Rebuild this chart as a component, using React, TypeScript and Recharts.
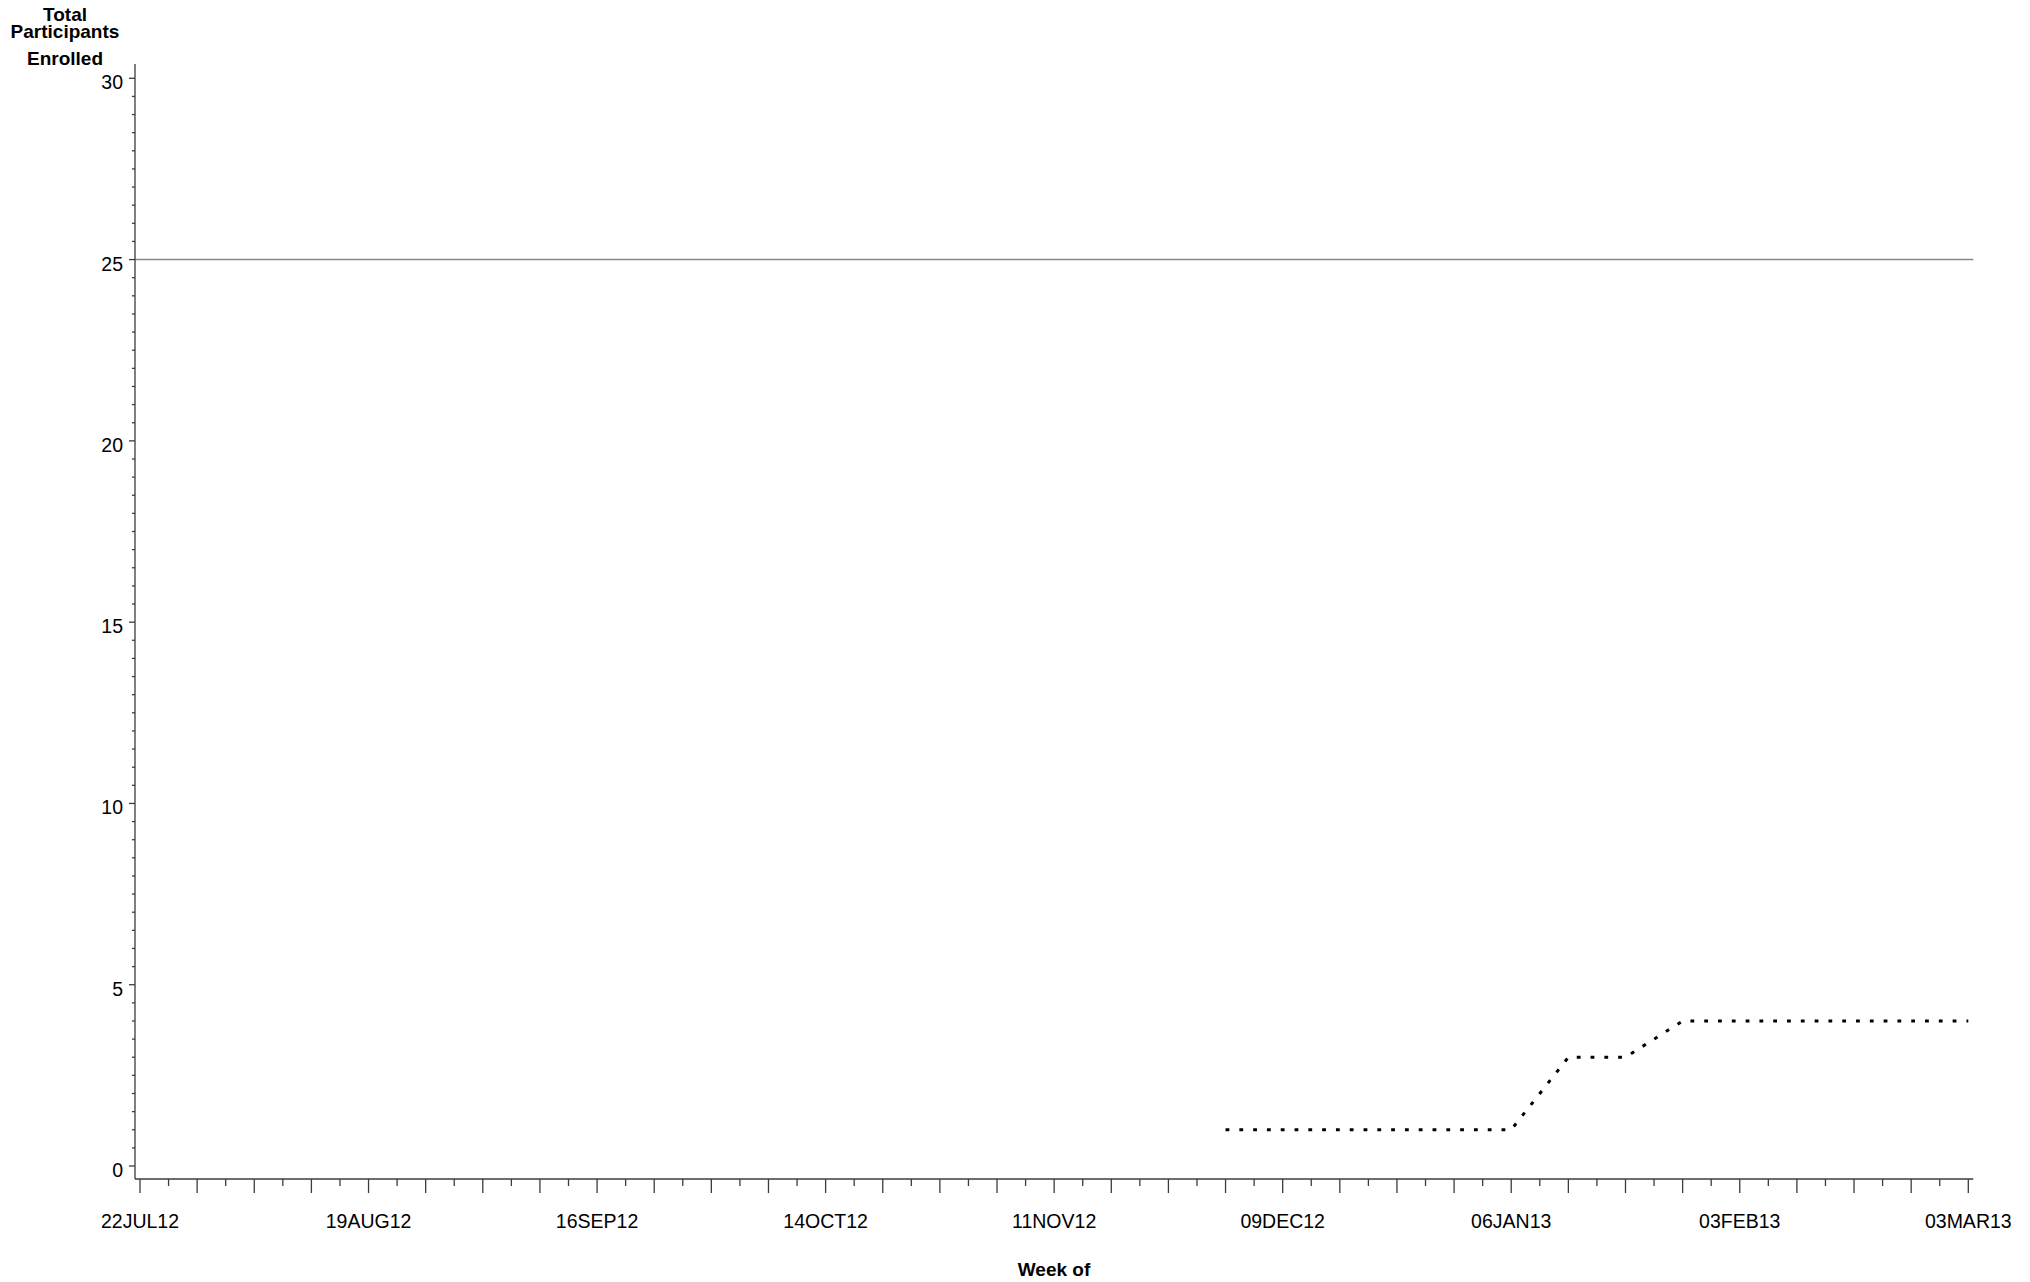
import React from 'react';
import { LineChart, Line, XAxis, YAxis, ReferenceLine } from 'recharts';

// Weeks since 22JUL12 (category index)
const weeks = [0, 1, 2, 3, 4, 5, 6, 7, 8, 9, 10, 11, 12, 13, 14, 15, 16, 17, 18, 19, 20, 21, 22, 23, 24, 25, 26, 27, 28, 29, 30, 31, 32];
// Total participants enrolled per week
const enrolled: (number | null)[] = [null, null, null, null, null, null, null, null, null, null, null, null, null, null, null, null, null, null, null, 1, 1, 1, 1, 1, 1, 3, 3, 4, 4, 4, 4, 4, 4];
// Target enrollment reference
const target = 25;

const xLabelWeeks = [0, 4, 8, 12, 16, 20, 24, 28, 32];
const xLabels = ['22JUL12', '19AUG12', '16SEP12', '14OCT12', '11NOV12', '09DEC12', '06JAN13', '03FEB13', '03MAR13'];
const yLabelValues = [0, 5, 10, 15, 20, 25, 30];
const yLabels = ['0', '5', '10', '15', '20', '25', '30'];

const xTicks = Array.from({ length: 65 }, (_, i) => i * 0.5);
const yTicks = Array.from({ length: 61 }, (_, i) => i * 0.5);

const data = weeks.map((w, i) => ({ week: w, enrolled: enrolled[i] }));

const FONT = '"Liberation Sans", Arial, sans-serif';
const AXIS = '#3c3c3c';

const XTick = (props: any) => {
  const { x, y, payload } = props;
  const v = payload.value;
  const major = Math.abs(v - Math.round(v)) < 1e-6;
  const idx = xLabelWeeks.indexOf(v);
  return (
    <g>
      <line x1={x} x2={x} y1={y} y2={y + (major ? 14 : 7)} stroke={AXIS} strokeWidth={1.3} />
      {idx >= 0 && (
        <text x={x} y={y + 49} textAnchor="middle" fontFamily={FONT} fontSize={19.5} fill="#000">
          {xLabels[idx]}
        </text>
      )}
    </g>
  );
};

const YTick = (props: any) => {
  const { x, y, payload } = props;
  const v = payload.value;
  const idx = yLabelValues.indexOf(v);
  const major = idx >= 0;
  return (
    <g>
      <line x1={x} x2={x - (major ? 6 : 3)} y1={y} y2={y} stroke={AXIS} strokeWidth={1.3} />
      {major && (
        <text x={x - 12} y={y + 11} textAnchor="end" fontFamily={FONT} fontSize={19.5} fill="#000">
          {yLabels[idx]}
        </text>
      )}
    </g>
  );
};

export default function App() {
  return (
    <div style={{ position: 'absolute', left: 0, top: 0, width: 2030, height: 1282, background: '#fff' }}>
      <LineChart
        width={2030}
        height={1282}
        data={data}
        margin={{ top: 64, right: 56.7, bottom: 0, left: 0 }}
      >
        <XAxis
          dataKey="week"
          type="number"
          domain={[-0.0875, 32.0875]}
          allowDataOverflow
          ticks={xTicks}
          interval={0}
          tick={<XTick />}
          tickLine={false}
          tickSize={0}
          tickMargin={0}
          height={103}
          axisLine={{ stroke: AXIS, strokeWidth: 1.3 }}
        />
        <YAxis
          type="number"
          domain={[-0.358, 30.394]}
          allowDataOverflow
          ticks={yTicks}
          interval={0}
          tick={<YTick />}
          tickLine={false}
          tickSize={0}
          tickMargin={0}
          width={135}
          axisLine={{ stroke: AXIS, strokeWidth: 1.3 }}
        />
        <ReferenceLine y={target} stroke="#888" strokeWidth={1.4} ifOverflow="extendDomain" />
        <Line
          type="linear"
          dataKey="enrolled"
          stroke="#000"
          strokeWidth={3}
          strokeDasharray="3.8 10"
          dot={false}
          activeDot={false}
          connectNulls={false}
          isAnimationActive={false}
        />
      </LineChart>
      <svg width={2030} height={1282} style={{ position: 'absolute', left: 0, top: 0, pointerEvents: 'none' }}>
        <g fontFamily={FONT} fontWeight="bold" fontSize={19} fill="#000" textAnchor="middle">
          <text x={65} y={21}>Total</text>
          <text x={65} y={38}>Participants</text>
          <text x={65} y={65}>Enrolled</text>
          <text x={1054} y={1276}>Week of</text>
        </g>
      </svg>
    </div>
  );
}
